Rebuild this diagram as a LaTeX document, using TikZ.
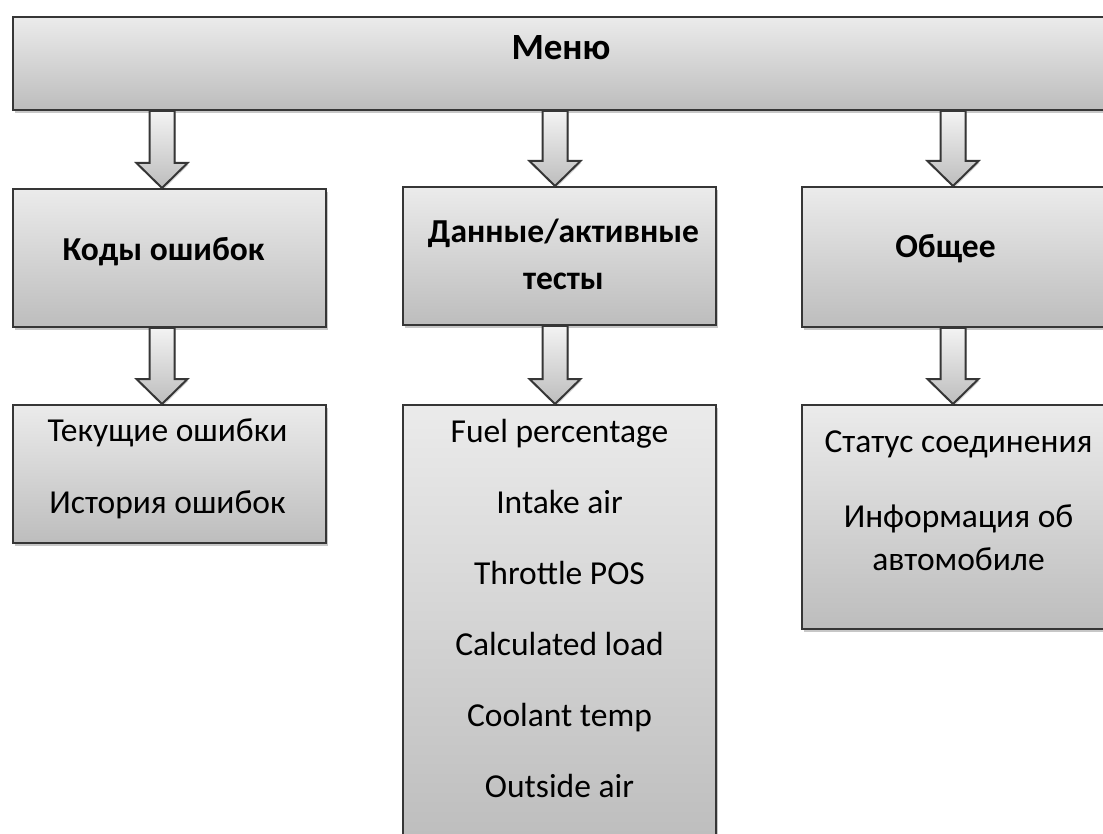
\documentclass[tikz,border=0pt]{standalone}
\usepackage{fontspec}
\setmainfont{Carlito}
\usetikzlibrary{calc,shadows}

\definecolor{boxtop}{HTML}{EBEBEB}
\definecolor{boxbot}{HTML}{BDBDBD}
\definecolor{edge}{HTML}{363636}

\tikzset{
  box/.style={rectangle, draw=edge, line width=2pt,
    top color=boxtop, bottom color=boxbot,
    minimum width=313pt, inner sep=0pt, anchor=north west,
    drop shadow={shadow xshift=1.5pt, shadow yshift=-3pt, opacity=0.22, fill=black}},
  head/.style={font=\fontsize{33.5}{47}\selectfont\bfseries, align=center, anchor=base, inner sep=0pt},
  items/.style={font=\fontsize{33.5}{43}\selectfont, align=center, anchor=base, inner sep=0pt},
  blockarrow/.style={draw=edge, line width=2pt, line join=miter,
    top color=boxtop!60!white, bottom color=boxbot,
    drop shadow={shadow xshift=1pt, shadow yshift=-2pt, opacity=0.15, fill=black}}
}

% hollow block arrow from the bottom of #1 down to the top of #2, shifted by #3
\newcommand\blockarrow[3]{%
  \path[blockarrow] let \p1=($(#2.north)+(#3,0)$), \p2=(#1.south) in
    (\x1-12.5pt,\y2) -- (\x1+12.5pt,\y2) -- (\x1+12.5pt,\y1+25pt)
    -- (\x1+25.5pt,\y1+25pt) -- (\x1,\y1) -- (\x1-25.5pt,\y1+25pt)
    -- (\x1-12.5pt,\y1+25pt) -- cycle;}

\begin{document}
\begin{tikzpicture}[x=1pt, y=-1pt]
  \clip (0,0) rectangle (1103,834);
  \fill[white] (0,0) rectangle (1103,834);

  % boxes
  \node[box, minimum width=1098pt, minimum height=93pt] (menu) at (12,16) {};
  \node[box, minimum height=138pt] (codes) at (12,188) {};
  \node[box, minimum height=138pt] (data)  at (402,186) {};
  \node[box, minimum height=140pt] (gen)   at (801,186) {};
  \node[box, minimum height=138pt] (codelist) at (12,404) {};
  \node[box, minimum height=440pt] (datalist) at (402,404) {};
  \node[box, minimum height=224pt] (genlist)  at (801,404) {};

  % titles (anchor base = baseline of the last line)
  \node[head, font=\fontsize{37}{47}\selectfont\bfseries] (menuT) at ($(menu.north)+(-1,44)$) {Меню};
  \node[head] (codesT) at ($(codes.north)+(-6,73)$) {Коды ошибок};
  \node[head] (dataT)  at ($(data.north)+(4,104)$) {Данные/активные\\тесты};
  \node[head] (genT)   at ($(gen.north)+(-13,72)$) {Общее};

  % contents
  \node[items] (codelistT) at ($(codelist.north)+(-2,109)$)
    {Текущие ошибки\\[29pt]История ошибок};
  \node[items] (datalistT) at ($(datalist.north)+(0,393)$)
    {Fuel percentage\\[28pt]Intake air\\[28pt]Throttle POS\\[28pt]Calculated load\\[28pt]Coolant temp\\[28pt]Outside air};
  \node[items] (genlistT) at ($(genlist.north)+(0,166)$)
    {Статус соединения\\[32pt]Информация об\\автомобиле};

  % arrows
  \blockarrow{menu}{codes}{-7.5}
  \blockarrow{menu}{data}{-4.5}
  \blockarrow{menu}{gen}{-5.5}
  \blockarrow{codes}{codelist}{-7.5}
  \blockarrow{data}{datalist}{-4.5}
  \blockarrow{gen}{genlist}{-5.5}
\end{tikzpicture}
\end{document}
